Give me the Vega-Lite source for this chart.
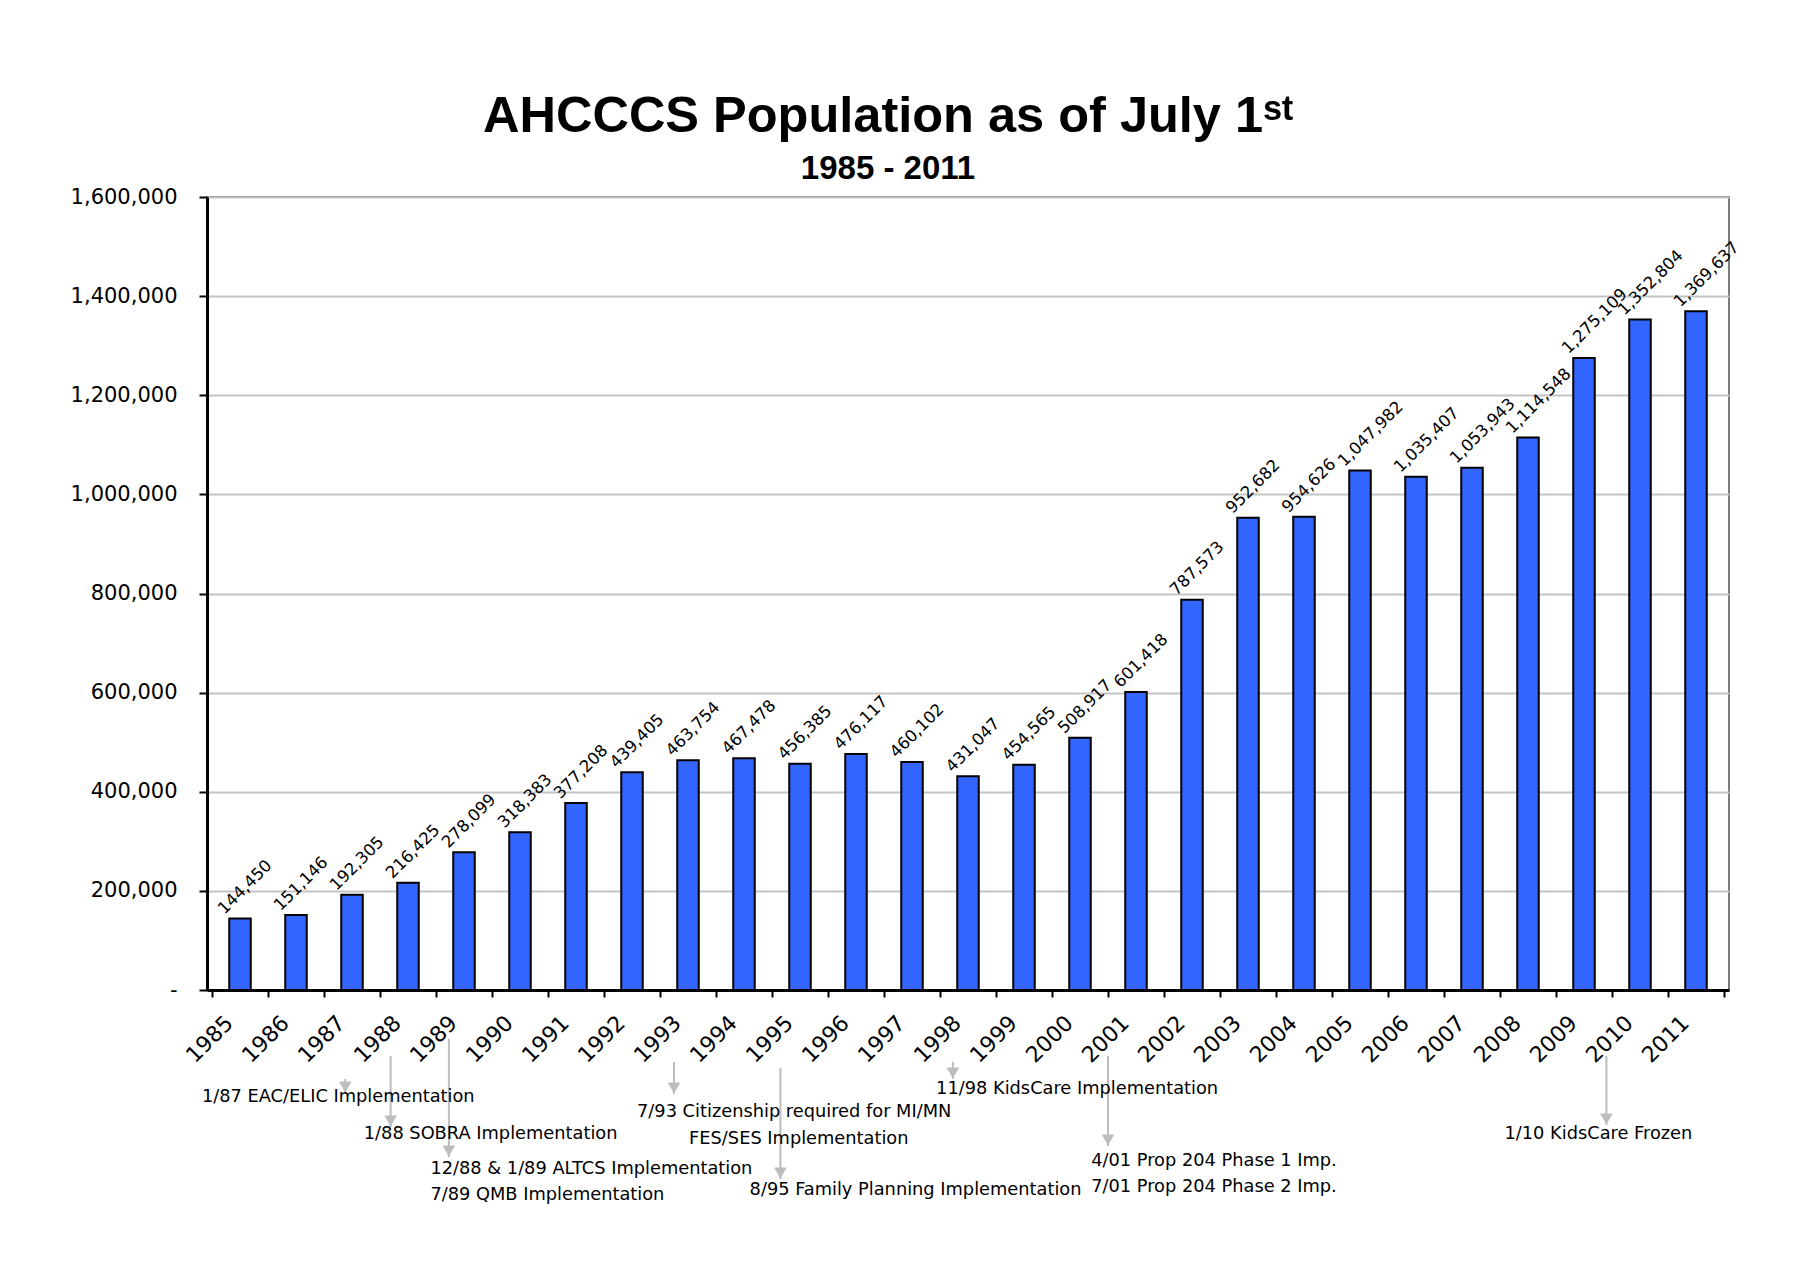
{
  "$schema": "https://vega.github.io/schema/vega-lite/v6.json",
  "width": 1522,
  "height": 793,
  "autosize": {"type": "none"},
  "padding": {"left": 207, "top": 197, "right": 71, "bottom": 276},
  "background": "white",
  "title": {
    "text": "AHCCCS Population as of July 1ˢᵗ",
    "subtitle": "1985 - 2011",
    "font": "Liberation Sans",
    "fontSize": 50.5,
    "fontWeight": "bold",
    "color": "black",
    "subtitleFont": "Liberation Sans",
    "subtitleFontSize": 33,
    "subtitleFontWeight": "bold",
    "subtitleColor": "black",
    "anchor": "middle",
    "frame": "group",
    "dx": -80,
    "offset": 0,
    "subtitlePadding": 11
  },
  "config": {"view": {"stroke": "#7a7a7a", "strokeWidth": 2}},
  "datasets": {
    "pop": [
      {"year": 1985, "value": 144450},
      {"year": 1986, "value": 151146},
      {"year": 1987, "value": 192305},
      {"year": 1988, "value": 216425},
      {"year": 1989, "value": 278099},
      {"year": 1990, "value": 318383},
      {"year": 1991, "value": 377208},
      {"year": 1992, "value": 439405},
      {"year": 1993, "value": 463754},
      {"year": 1994, "value": 467478},
      {"year": 1995, "value": 456385},
      {"year": 1996, "value": 476117},
      {"year": 1997, "value": 460102},
      {"year": 1998, "value": 431047},
      {"year": 1999, "value": 454565},
      {"year": 2000, "value": 508917},
      {"year": 2001, "value": 601418},
      {"year": 2002, "value": 787573},
      {"year": 2003, "value": 952682},
      {"year": 2004, "value": 954626},
      {"year": 2005, "value": 1047982},
      {"year": 2006, "value": 1035407},
      {"year": 2007, "value": 1053943},
      {"year": 2008, "value": 1114548},
      {"year": 2009, "value": 1275109},
      {"year": 2010, "value": 1352804},
      {"year": 2011, "value": 1369637}
    ],
    "notes": [
      {"year": 1984.32, "value": -215900, "note": "1/87 EAC/ELIC Implementation"},
      {"year": 1987.21, "value": -290550, "note": "1/88 SOBRA Implementation"},
      {"year": 1988.40, "value": -361170, "note": "12/88 & 1/89 ALTCS Implementation"},
      {"year": 1988.40, "value": -413630, "note": "7/89 QMB Implementation"},
      {"year": 1992.09, "value": -246160, "note": "7/93 Citizenship required for MI/MN"},
      {"year": 1993.02, "value": -300640, "note": "FES/SES Implementation"},
      {"year": 1994.10, "value": -403540, "note": "8/95 Family Planning Implementation"},
      {"year": 1997.43, "value": -199750, "note": "11/98 KidsCare Implementation"},
      {"year": 2000.20, "value": -345030, "note": "4/01 Prop 204 Phase 1 Imp."},
      {"year": 2000.20, "value": -397490, "note": "7/01 Prop 204 Phase 2 Imp."},
      {"year": 2007.58, "value": -290550, "note": "1/10 KidsCare Frozen"}
    ],
    "arrows": [
      {"year": 1986.88, "value": -179580, "tip": -207830},
      {"year": 1987.69, "value": -133170, "tip": -276430},
      {"year": 1988.73, "value": -98870, "tip": -336960},
      {"year": 1992.75, "value": -145270, "tip": -209840},
      {"year": 1994.65, "value": -157380, "tip": -381350},
      {"year": 1997.73, "value": -145270, "tip": -179580},
      {"year": 2000.5, "value": -133170, "tip": -314760},
      {"year": 2009.4, "value": -133170, "tip": -272400}
    ]
  },
  "encoding": {
    "x": {
      "field": "year",
      "type": "quantitative",
      "scale": {"domain": [1984.5, 2011.5], "nice": false, "zero": false},
      "axis": {
        "title": null,
        "values": [1984.5, 1985.5, 1986.5, 1987.5, 1988.5, 1989.5, 1990.5, 1991.5, 1992.5, 1993.5, 1994.5, 1995.5, 1996.5, 1997.5, 1998.5, 1999.5, 2000.5, 2001.5, 2002.5, 2003.5, 2004.5, 2005.5, 2006.5, 2007.5, 2008.5, 2009.5, 2010.5, 2011.5],
        "labelExpr": "datum.value < 2011 ? format(datum.value + 0.5, 'd') : ''",
        "labelAngle": 315,
        "labelAlign": "right",
        "labelBaseline": "top",
        "labelFont": "DejaVu Sans",
        "labelFontSize": 22,
        "labelColor": "black",
        "labelOffset": 10,
        "labelPadding": 15,
        "labelOverlap": false,
        "labelFlush": false,
        "labelBound": false,
        "tickSize": 7,
        "tickColor": "black",
        "tickWidth": 2,
        "domainColor": "black",
        "domainWidth": 3,
        "grid": false
      }
    },
    "y": {
      "field": "value",
      "type": "quantitative",
      "scale": {"domain": [0, 1600000], "nice": false},
      "axis": {
        "title": null,
        "values": [0, 200000, 400000, 600000, 800000, 1000000, 1200000, 1400000, 1600000],
        "labelExpr": "datum.value == 0 ? '-\u00a0\u00a0\u00a0\u00a0' : format(datum.value, ',')",
        "labelFont": "DejaVu Sans",
        "labelFontSize": 21,
        "labelColor": "black",
        "labelPadding": 22,
        "labelOverlap": false,
        "labelFlush": false,
        "tickSize": 8,
        "tickColor": "black",
        "tickWidth": 2,
        "domainColor": "black",
        "domainWidth": 3,
        "grid": true,
        "gridColor": "#c4c4c4",
        "gridWidth": 2
      }
    }
  },
  "layer": [
    {
      "data": {"name": "pop"},
      "mark": {"type": "bar", "width": 21.5, "fill": "#3366ff", "stroke": "black", "strokeWidth": 2}
    },
    {
      "data": {"name": "pop"},
      "mark": {"type": "text", "angle": 315, "align": "left", "baseline": "middle", "xOffset": -19, "yOffset": -7, "font": "DejaVu Sans", "fontSize": 16.5, "color": "black"},
      "encoding": {
        "text": {"field": "value", "type": "quantitative", "format": ","}
      }
    },
    {
      "data": {"name": "arrows"},
      "mark": {"type": "rule", "color": "#bdbdbd", "strokeWidth": 2},
      "encoding": {
        "y2": {"field": "tip"}
      }
    },
    {
      "data": {"name": "arrows"},
      "mark": {"type": "point", "shape": "triangle-down", "filled": true, "color": "#bdbdbd", "opacity": 1, "size": 160, "yOffset": -6},
      "encoding": {
        "y": {"field": "tip", "type": "quantitative"}
      }
    },
    {
      "data": {"name": "notes"},
      "mark": {"type": "text", "align": "left", "baseline": "middle", "font": "DejaVu Sans", "fontSize": 17.8, "color": "black"},
      "encoding": {
        "text": {"field": "note", "type": "nominal"}
      }
    }
  ]
}
